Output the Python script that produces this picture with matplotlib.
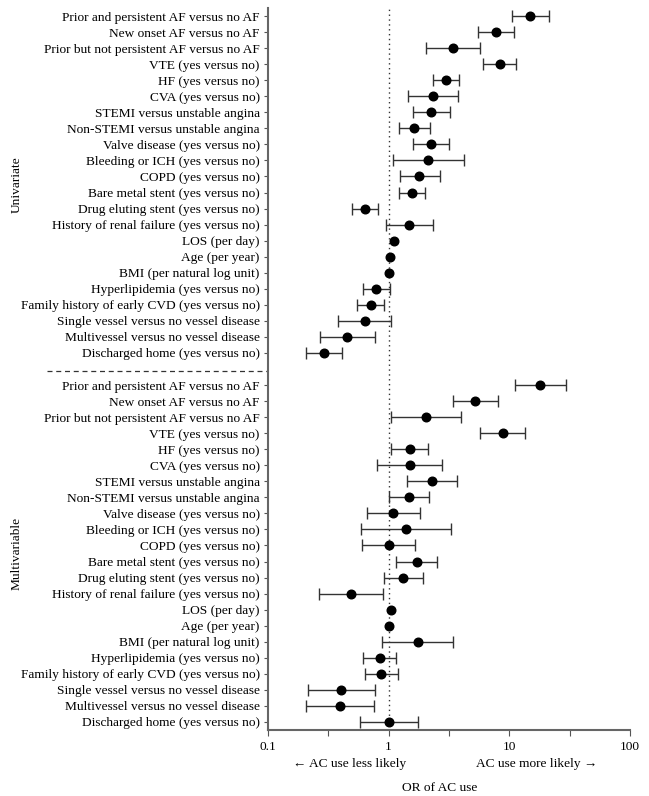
import matplotlib
matplotlib.use("Agg")
import matplotlib.pyplot as plt
import matplotlib.transforms as mtransforms
from matplotlib.ticker import FixedLocator, NullFormatter
import numpy as np

plt.rcParams['font.family'] = ['Liberation Serif', 'DejaVu Serif']

labels = [
    "Prior and persistent AF versus no AF",
    "New onset AF versus no AF",
    "Prior but not persistent AF versus no AF",
    "VTE (yes versus no)",
    "HF (yes versus no)",
    "CVA (yes versus no)",
    "STEMI versus unstable angina",
    "Non-STEMI versus unstable angina",
    "Valve disease (yes versus no)",
    "Bleeding or ICH (yes versus no)",
    "COPD (yes versus no)",
    "Bare metal stent (yes versus no)",
    "Drug eluting stent (yes versus no)",
    "History of renal failure (yes versus no)",
    "LOS (per day)",
    "Age (per year)",
    "BMI (per natural log unit)",
    "Hyperlipidemia (yes versus no)",
    "Family history of early CVD (yes versus no)",
    "Single vessel versus no vessel disease",
    "Multivessel versus no vessel disease",
    "Discharged home (yes versus no)",
]

uni_or = [14.9, 7.7, 3.39, 8.37, 2.99, 2.33, 2.24, 1.63, 2.23, 2.13, 1.80,
          1.56, 0.633, 1.48, 1.10, 1.03, 1.01, 0.79, 0.71, 0.633, 0.452, 0.292]
uni_lo = [10.5, 5.46, 2.03, 6.1, 2.31, 1.45, 1.58, 1.22, 1.58, 1.08, 1.23,
          1.21, 0.498, 0.951, 1.10, 1.03, 1.01, 0.617, 0.55, 0.381, 0.270, 0.207]
uni_hi = [21.2, 10.9, 5.67, 11.4, 3.85, 3.78, 3.20, 2.19, 3.14, 4.21, 2.65,
          2.01, 0.811, 2.32, 1.10, 1.03, 1.01, 1.02, 0.91, 1.05, 0.766, 0.413]

multi_or = [18.1, 5.23, 2.05, 8.8, 1.49, 1.49, 2.27, 1.47, 1.09, 1.39, 1.0,
            1.71, 1.32, 0.491, 1.05, 1.0, 1.74, 0.849, 0.87, 0.406, 0.396, 1.0]
multi_lo = [11.1, 3.39, 1.05, 5.75, 1.05, 0.80, 1.42, 1.0, 0.657, 0.59, 0.60,
            1.16, 0.916, 0.263, 1.05, 1.0, 0.88, 0.617, 0.633, 0.213, 0.207, 0.583]
multi_hi = [29.3, 8.11, 4.0, 13.4, 2.13, 2.77, 3.66, 2.16, 1.81, 3.26, 1.64,
            2.50, 1.93, 0.904, 1.05, 1.0, 3.41, 1.16, 1.20, 0.766, 0.751, 1.74]

group_names = ["Univariate", "Multivariable"]
xticks = [0.1, 1, 10, 100]
xtick_labels = ["0.1", "1", "10", "100"]

W, H = 649, 796
fig = plt.figure(figsize=(W / 100, H / 100), dpi=100)
ax = fig.add_axes([268 / W, 1 - 730 / H, (630 - 268) / W, (730 - 8) / H])

n = len(labels)
pos_uni = np.arange(n)
pos_multi = np.arange(n) + n + 1
sep = n + 0.1

ecol = '#333333'
for pos, o, lo, hi in [(pos_uni, uni_or, uni_lo, uni_hi),
                       (pos_multi, multi_or, multi_lo, multi_hi)]:
    o = np.array(o); lo = np.array(lo); hi = np.array(hi)
    err = np.vstack([o - lo, hi - o])
    has_ci = (hi - lo) > 1e-9
    ax.errorbar(o[has_ci], pos[has_ci], xerr=err[:, has_ci], fmt='none',
                ecolor=ecol, elinewidth=1.0, capsize=4, capthick=1.0, zorder=2)
    ax.plot(o, pos, 'o', color='black', markersize=6.2, zorder=3)

ax.axvline(1, color='#333333', linestyle=(0, (1, 2.5)), linewidth=1.0, zorder=1)

ax.set_xscale('log')
ax.set_xlim(0.1, 100)
ax.set_ylim(2 * n + 0.5, -0.5)

ax.set_yticks(list(pos_uni) + list(pos_multi))
ax.set_yticklabels(labels + labels, fontsize=9.6)
ax.xaxis.set_major_locator(FixedLocator(xticks))
ax.set_xticklabels(xtick_labels, fontsize=9.6)
ax.xaxis.set_minor_locator(FixedLocator([10 ** -0.5, 10 ** 0.5, 10 ** 1.5]))
ax.xaxis.set_minor_formatter(NullFormatter())
ax.tick_params(axis='y', length=3, width=0.8, color='#555555', pad=3)
ax.tick_params(axis='x', which='both', length=4, width=0.8, color='#555555', pad=4)

for s in ['top', 'right']:
    ax.spines[s].set_visible(False)
for s in ['left', 'bottom']:
    ax.spines[s].set_color('#666666')
    ax.spines[s].set_linewidth(1.5)

# dashed separator across label area
trans = mtransforms.blended_transform_factory(fig.transFigure, ax.transData)
ax.plot([47 / W, 268 / W], [sep, sep], transform=trans, color='#333333',
        linestyle=(0, (4, 3)), linewidth=0.9, clip_on=False)

# group labels
for name, pos in zip(group_names, [pos_uni, pos_multi]):
    ax.text(17 / W, pos.mean(), name, transform=trans, rotation=90,
            ha='center', va='center', fontsize=9.6)

fig.text(350 / W, 1 - 764 / H, "\u2190 AC use less likely", ha='center', va='center', fontsize=9.6)
fig.text(537 / W, 1 - 764 / H, "AC use more likely \u2192", ha='center', va='center', fontsize=9.6)
fig.text(440 / W, 1 - 788 / H, "OR of AC use", ha='center', va='center', fontsize=9.6)

fig.savefig("out.png", dpi=100)
